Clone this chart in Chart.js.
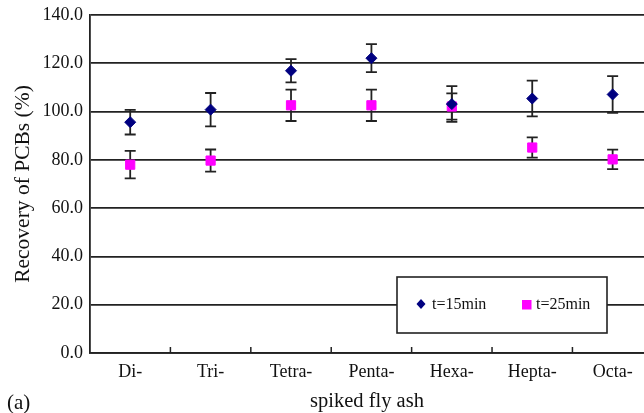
<!DOCTYPE html>
<html>
<head>
<meta charset="utf-8">
<script src="https://cdn.jsdelivr.net/npm/chart.js@4.4.0/dist/chart.umd.min.js"></script>
<style>
  html, body { margin: 0; padding: 0; background: #fff; overflow: hidden; }
  #wrap { width: 644px; height: 413px; position: relative; }
</style>
</head>
<body>
<div id="wrap"><canvas id="myChart"></canvas></div>
<script>
// categories and values
const categories = ["Di-", "Tri-", "Tetra-", "Penta-", "Hexa-", "Hepta-", "Octa-"];
const t15 = [95.6, 100.8, 116.9, 122.1, 103.1, 105.4, 107.1];
const t15Err = [5.1, 6.9, 4.8, 5.8, 7.4, 7.4, 7.6];
const t25 = [78.0, 79.7, 102.6, 102.6, 102.1, 85.1, 80.2];
const t25Err = [5.7, 4.6, 6.5, 6.5, 5.4, 4.2, 4.0];
const yTicks = [0, 20, 40, 60, 80, 100, 120, 140];

const serif = "'Liberation Serif', 'DejaVu Serif', serif";
const blue = "#000080";
const pink = "#ff00ff";
const ink = "#222";

const toPoints = vals => vals.map((v, i) => ({ x: i + 1, y: v }));

// error bars under the markers, plus the small ticks between categories
const errorBars = {
  id: "errorBars",
  beforeDatasetsDraw(chart) {
    const ctx = chart.ctx;
    const xs = chart.scales.x, ys = chart.scales.y;
    const errs = [t15Err, t25Err];
    ctx.save();
    ctx.strokeStyle = ink;
    ctx.lineWidth = 1.8;
    chart.data.datasets.forEach((ds, d) => {
      ds.data.forEach((p, i) => {
        const x = xs.getPixelForValue(p.x);
        const top = ys.getPixelForValue(p.y + errs[d][i]);
        const bot = ys.getPixelForValue(p.y - errs[d][i]);
        ctx.beginPath();
        ctx.moveTo(x, top); ctx.lineTo(x, bot);
        ctx.moveTo(x - 5.5, top); ctx.lineTo(x + 5.5, top);
        ctx.moveTo(x - 5.5, bot); ctx.lineTo(x + 5.5, bot);
        ctx.stroke();
      });
    });
    // category separators on the x axis
    const y0 = ys.getPixelForValue(0);
    ctx.lineWidth = 1.5;
    ctx.beginPath();
    for (let i = 1; i < categories.length; i++) {
      const x = xs.getPixelForValue(i + 0.5);
      ctx.moveTo(x, y0); ctx.lineTo(x, y0 - 6);
    }
    ctx.stroke();
    ctx.restore();
  }
};

// boxed legend inside the plot + "(a)" label
const boxLegend = {
  id: "boxLegend",
  afterDraw(chart) {
    const ctx = chart.ctx;
    ctx.save();
    ctx.fillStyle = "#fff";
    ctx.fillRect(397, 277, 210, 56);
    ctx.strokeStyle = ink;
    ctx.lineWidth = 1.6;
    ctx.strokeRect(397, 277, 210, 56);

    // diamond
    ctx.fillStyle = blue;
    ctx.beginPath();
    ctx.moveTo(421, 299); ctx.lineTo(425.5, 304); ctx.lineTo(421, 309); ctx.lineTo(416.5, 304);
    ctx.closePath(); ctx.fill();
    // square
    ctx.fillStyle = pink;
    ctx.fillRect(522, 300, 9.5, 9.5);

    ctx.fillStyle = "#111";
    ctx.font = "16px " + serif;
    ctx.textBaseline = "middle";
    ctx.fillText("t=15min", 432, 305);
    ctx.fillText("t=25min", 536, 305);

    ctx.font = "21px " + serif;
    ctx.fillText("(a)", 7, 403);
    ctx.restore();
  }
};

const ctx = document.getElementById("myChart").getContext("2d");
const chart = new Chart(ctx, {
  type: "scatter",
  data: {
    datasets: [
      {
        label: "t=15min",
        data: toPoints(t15),
        pointStyle: "rectRot",
        pointRadius: 5.5,
        pointHoverRadius: 5.5,
        backgroundColor: blue,
        borderColor: blue
      },
      {
        label: "t=25min",
        data: toPoints(t25),
        pointStyle: "rect",
        pointRadius: 6.5,
        pointHoverRadius: 6.5,
        backgroundColor: pink,
        borderColor: pink
      }
    ]
  },
  options: {
    responsive: true,
    maintainAspectRatio: false,
    animation: false,
    layout: { autoPadding: false, padding: { top: 15, right: 0, left: 0, bottom: 0 } },
    plugins: {
      legend: { display: false },
      tooltip: { enabled: false }
    },
    scales: {
      x: {
        type: "linear",
        min: 0.5,
        max: 7.39,
        afterBuildTicks: axis => {
          axis.ticks = categories.map((c, i) => ({ value: i + 1 }));
        },
        afterFit: axis => {
          axis.height = 60;
          axis.paddingLeft = 0;
          axis.paddingRight = 0;
        },
        grid: { display: false, drawTicks: false },
        border: { display: true, color: ink, width: 1.8 },
        ticks: {
          color: "#111",
          font: { family: serif, size: 18 },
          padding: 8,
          maxRotation: 0,
          autoSkip: false,
          callback: v => categories[v - 1] || ""
        },
        title: {
          display: true,
          text: "spiked fly ash",
          color: "#111",
          font: { family: serif, size: 20.5, lineHeight: 1 },
          padding: { top: 0, bottom: 1 }
        }
      },
      y: {
        min: 0,
        max: 140,
        afterBuildTicks: axis => {
          axis.ticks = yTicks.map(v => ({ value: v }));
        },
        afterFit: axis => {
          axis.width = 90;
          axis.paddingTop = 0;
          axis.paddingBottom = 0;
        },
        grid: { color: ink, lineWidth: 1.8, drawTicks: false },
        border: { display: true, color: ink, width: 1.8 },
        ticks: {
          color: "#111",
          font: { family: serif, size: 18 },
          padding: 7,
          callback: v => v.toFixed(1)
        },
        title: {
          display: true,
          text: "Recovery of PCBs (%)",
          color: "#111",
          font: { family: serif, size: 21.5, lineHeight: 1.2 },
          padding: { top: 10, bottom: 0 }
        }
      }
    }
  },
  plugins: [errorBars, boxLegend]
});
</script>
</body>
</html>
